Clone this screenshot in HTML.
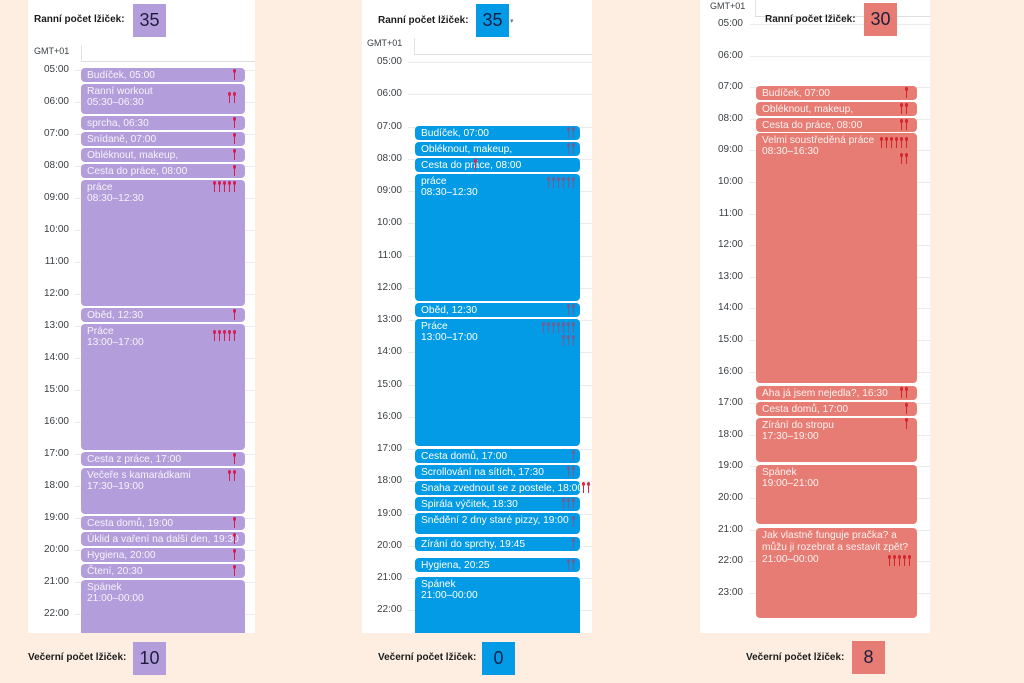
<!DOCTYPE html>
<html><head><meta charset="utf-8">
<style>
*{margin:0;padding:0;box-sizing:border-box}
body{width:1024px;height:683px;background:#fdeee1;position:relative;overflow:hidden;font-family:"Liberation Sans","DejaVu Sans",sans-serif}
.pn{position:absolute;top:0;height:633px;background:#fff}
.lb{position:absolute;font-weight:bold;font-size:10px;color:#1b1b1b;white-space:nowrap;line-height:12px}
.bx{position:absolute;width:33px;height:33px;font-size:18px;line-height:33px;text-align:center;color:#1e1e3c}
.hr{position:absolute;font-size:10px;line-height:12px;height:12px;color:#3c4043;text-align:right;width:40px}
.gl{position:absolute;height:1px;background:#ebebeb}
.vl{position:absolute;width:1px;background:#e3e3e3}
.ev{position:absolute;border-radius:4px;font-size:10.2px;line-height:11px;padding:2px 6px 0 6px;overflow:hidden;white-space:nowrap;color:rgba(255,255,255,.88)}
.p{background:#b39ddb}
.b{background:#039be5;color:#fff}
.r{background:#e67c73;color:rgba(255,255,255,.9)}
.sg{position:absolute;display:flex;height:12px}
.sp{width:3px;height:12px;margin-left:2px;position:relative}
.sp::before{content:"";position:absolute;left:0;top:0;width:3px;height:4px;border-radius:50%;background:var(--c)}
.sp::after{content:"";position:absolute;left:1px;top:3px;width:1px;height:8px;background:var(--c)}
.s1{--c:#d81b50}
.s2{--c:rgba(205,45,85,.55)}
.s2b{--c:#e2233f}
.s3{--c:#d3262c}
.gmt{position:absolute;font-size:9px;color:#3c4043}
</style></head><body>

<!-- ============ PANEL 1 ============ -->
<div class="pn" style="left:28px;width:227px"></div>
<div class="lb" style="left:34px;top:14px">Ranní počet lžiček:</div>
<div class="bx" style="left:133px;top:4px;background:#b39ddb">35</div>
<div class="gmt" style="left:34px;top:46px">GMT+01</div>
<div class="vl" style="left:81px;top:45px;height:16px"></div>
<div class="gl" style="left:81px;top:61px;width:174px;background:#dedede"></div>

<div class="gl" style="left:75px;top:70px;width:180px"></div>
<div class="gl" style="left:75px;top:102px;width:180px"></div>
<div class="gl" style="left:75px;top:134px;width:180px"></div>
<div class="gl" style="left:75px;top:166px;width:180px"></div>
<div class="gl" style="left:75px;top:198px;width:180px"></div>
<div class="gl" style="left:75px;top:230px;width:180px"></div>
<div class="gl" style="left:75px;top:262px;width:180px"></div>
<div class="gl" style="left:75px;top:294px;width:180px"></div>
<div class="gl" style="left:75px;top:326px;width:180px"></div>
<div class="gl" style="left:75px;top:358px;width:180px"></div>
<div class="gl" style="left:75px;top:390px;width:180px"></div>
<div class="gl" style="left:75px;top:422px;width:180px"></div>
<div class="gl" style="left:75px;top:454px;width:180px"></div>
<div class="gl" style="left:75px;top:486px;width:180px"></div>
<div class="gl" style="left:75px;top:518px;width:180px"></div>
<div class="gl" style="left:75px;top:550px;width:180px"></div>
<div class="gl" style="left:75px;top:582px;width:180px"></div>
<div class="gl" style="left:75px;top:614px;width:180px"></div>

<div class="hr" style="left:29px;top:64px">05:00</div>
<div class="hr" style="left:29px;top:96px">06:00</div>
<div class="hr" style="left:29px;top:128px">07:00</div>
<div class="hr" style="left:29px;top:160px">08:00</div>
<div class="hr" style="left:29px;top:192px">09:00</div>
<div class="hr" style="left:29px;top:224px">10:00</div>
<div class="hr" style="left:29px;top:256px">11:00</div>
<div class="hr" style="left:29px;top:288px">12:00</div>
<div class="hr" style="left:29px;top:320px">13:00</div>
<div class="hr" style="left:29px;top:352px">14:00</div>
<div class="hr" style="left:29px;top:384px">15:00</div>
<div class="hr" style="left:29px;top:416px">16:00</div>
<div class="hr" style="left:29px;top:448px">17:00</div>
<div class="hr" style="left:29px;top:480px">18:00</div>
<div class="hr" style="left:29px;top:512px">19:00</div>
<div class="hr" style="left:29px;top:544px">20:00</div>
<div class="hr" style="left:29px;top:576px">21:00</div>
<div class="hr" style="left:29px;top:608px">22:00</div>

<div class="ev p" style="left:81px;top:68px;width:164px;height:14px">Budíček, 05:00</div>
<div class="ev p" style="left:81px;top:84px;width:164px;height:30px">Ranní workout<br>05:30–06:30</div>
<div class="ev p" style="left:81px;top:116px;width:164px;height:14px">sprcha, 06:30</div>
<div class="ev p" style="left:81px;top:132px;width:164px;height:14px">Snídaně, 07:00</div>
<div class="ev p" style="left:81px;top:148px;width:164px;height:14px">Obléknout, makeup,</div>
<div class="ev p" style="left:81px;top:164px;width:164px;height:14px">Cesta do práce, 08:00</div>
<div class="ev p" style="left:81px;top:180px;width:164px;height:126px">práce<br>08:30–12:30</div>
<div class="ev p" style="left:81px;top:308px;width:164px;height:14px">Oběd, 12:30</div>
<div class="ev p" style="left:81px;top:324px;width:164px;height:126px">Práce<br>13:00–17:00</div>
<div class="ev p" style="left:81px;top:452px;width:164px;height:14px">Cesta z práce, 17:00</div>
<div class="ev p" style="left:81px;top:468px;width:164px;height:46px">Večeře s kamarádkami<br>17:30–19:00</div>
<div class="ev p" style="left:81px;top:516px;width:164px;height:14px">Cesta domů, 19:00</div>
<div class="ev p" style="left:81px;top:532px;width:164px;height:14px">Úklid a vaření na další den, 19:30</div>
<div class="ev p" style="left:81px;top:548px;width:164px;height:14px">Hygiena, 20:00</div>
<div class="ev p" style="left:81px;top:564px;width:164px;height:14px">Čtení, 20:30</div>
<div class="ev p" style="left:81px;top:580px;width:164px;height:53px;border-radius:4px 4px 0 0">Spánek<br>21:00–00:00</div>

<div class="sg s1" style="right:788px;top:69px"><i class="sp"></i></div>
<div class="sg s1" style="right:788px;top:92px"><i class="sp"></i><i class="sp"></i></div>
<div class="sg s1" style="right:788px;top:117px"><i class="sp"></i></div>
<div class="sg s1" style="right:788px;top:133px"><i class="sp"></i></div>
<div class="sg s1" style="right:788px;top:149px"><i class="sp"></i></div>
<div class="sg s1" style="right:788px;top:165px"><i class="sp"></i></div>
<div class="sg s1" style="right:788px;top:181px"><i class="sp"></i><i class="sp"></i><i class="sp"></i><i class="sp"></i><i class="sp"></i></div>
<div class="sg s1" style="right:788px;top:309px"><i class="sp"></i></div>
<div class="sg s1" style="right:788px;top:330px"><i class="sp"></i><i class="sp"></i><i class="sp"></i><i class="sp"></i><i class="sp"></i></div>
<div class="sg s1" style="right:788px;top:453px"><i class="sp"></i></div>
<div class="sg s1" style="right:788px;top:470px"><i class="sp"></i><i class="sp"></i></div>
<div class="sg s1" style="right:788px;top:517px"><i class="sp"></i></div>
<div class="sg s1" style="right:788px;top:533px"><i class="sp"></i></div>
<div class="sg s1" style="right:788px;top:549px"><i class="sp"></i></div>
<div class="sg s1" style="right:788px;top:565px"><i class="sp"></i></div>

<div class="lb" style="left:28px;top:652px">Večerní počet lžiček:</div>
<div class="bx" style="left:133px;top:642px;background:#b39ddb">10</div>

<!-- ============ PANEL 2 ============ -->
<div class="pn" style="left:362px;width:230px"></div>
<div class="lb" style="left:378px;top:15px">Ranní počet lžiček:</div>
<div class="bx" style="left:476px;top:4px;background:#039be5;color:#0d1f4a">35</div>
<div style="position:absolute;left:510px;top:17px;font-size:7px;color:#777">▾</div>
<div class="gmt" style="left:367px;top:38px">GMT+01</div>
<div class="vl" style="left:414px;top:38px;height:16px"></div>
<div class="gl" style="left:414px;top:54px;width:178px;background:#dedede"></div>

<div class="gl" style="left:408px;top:62px;width:184px"></div>
<div class="gl" style="left:408px;top:94px;width:184px"></div>
<div class="gl" style="left:408px;top:127px;width:184px"></div>
<div class="gl" style="left:408px;top:159px;width:184px"></div>
<div class="gl" style="left:408px;top:191px;width:184px"></div>
<div class="gl" style="left:408px;top:223px;width:184px"></div>
<div class="gl" style="left:408px;top:256px;width:184px"></div>
<div class="gl" style="left:408px;top:288px;width:184px"></div>
<div class="gl" style="left:408px;top:320px;width:184px"></div>
<div class="gl" style="left:408px;top:352px;width:184px"></div>
<div class="gl" style="left:408px;top:385px;width:184px"></div>
<div class="gl" style="left:408px;top:417px;width:184px"></div>
<div class="gl" style="left:408px;top:449px;width:184px"></div>
<div class="gl" style="left:408px;top:481px;width:184px"></div>
<div class="gl" style="left:408px;top:514px;width:184px"></div>
<div class="gl" style="left:408px;top:546px;width:184px"></div>
<div class="gl" style="left:408px;top:578px;width:184px"></div>
<div class="gl" style="left:408px;top:610px;width:184px"></div>

<div class="hr" style="left:362px;top:56px">05:00</div>
<div class="hr" style="left:362px;top:88px">06:00</div>
<div class="hr" style="left:362px;top:121px">07:00</div>
<div class="hr" style="left:362px;top:153px">08:00</div>
<div class="hr" style="left:362px;top:185px">09:00</div>
<div class="hr" style="left:362px;top:217px">10:00</div>
<div class="hr" style="left:362px;top:250px">11:00</div>
<div class="hr" style="left:362px;top:282px">12:00</div>
<div class="hr" style="left:362px;top:314px">13:00</div>
<div class="hr" style="left:362px;top:346px">14:00</div>
<div class="hr" style="left:362px;top:379px">15:00</div>
<div class="hr" style="left:362px;top:411px">16:00</div>
<div class="hr" style="left:362px;top:443px">17:00</div>
<div class="hr" style="left:362px;top:475px">18:00</div>
<div class="hr" style="left:362px;top:508px">19:00</div>
<div class="hr" style="left:362px;top:540px">20:00</div>
<div class="hr" style="left:362px;top:572px">21:00</div>
<div class="hr" style="left:362px;top:604px">22:00</div>

<div class="ev b" style="left:415px;top:126px;width:165px;height:14px">Budíček, 07:00</div>
<div class="ev b" style="left:415px;top:142px;width:165px;height:14px">Obléknout, makeup,</div>
<div class="ev b" style="left:415px;top:158px;width:165px;height:14px">Cesta do práce, 08:00</div>
<div class="ev b" style="left:415px;top:174px;width:165px;height:127px">práce<br>08:30–12:30</div>
<div class="ev b" style="left:415px;top:303px;width:165px;height:14px">Oběd, 12:30</div>
<div class="ev b" style="left:415px;top:319px;width:165px;height:127px">Práce<br>13:00–17:00</div>
<div class="ev b" style="left:415px;top:449px;width:165px;height:14px">Cesta domů, 17:00</div>
<div class="ev b" style="left:415px;top:465px;width:165px;height:14px">Scrollování na sítích, 17:30</div>
<div class="ev b" style="left:415px;top:481px;width:165px;height:14px;padding-right:0">Snaha zvednout se z postele, 18:00</div>
<div class="ev b" style="left:415px;top:497px;width:165px;height:14px">Spirála výčitek, 18:30</div>
<div class="ev b" style="left:415px;top:513px;width:165px;height:21px">Snědění 2 dny staré pizzy, 19:00</div>
<div class="ev b" style="left:415px;top:537px;width:165px;height:14px">Zírání do sprchy, 19:45</div>
<div class="ev b" style="left:415px;top:558px;width:165px;height:14px">Hygiena, 20:25</div>
<div class="ev b" style="left:415px;top:577px;width:165px;height:56px;border-radius:4px 4px 0 0">Spánek<br>21:00–00:00</div>

<div class="sg s2" style="right:449px;top:127px"><i class="sp"></i><i class="sp"></i></div>
<div class="sg s2" style="right:449px;top:143px"><i class="sp"></i><i class="sp"></i></div>
<div class="sg s2b" style="left:474px;top:159px"><i class="sp" style="margin-left:0"></i></div>
<div class="sg s2" style="right:449px;top:177px"><i class="sp"></i><i class="sp"></i><i class="sp"></i><i class="sp"></i><i class="sp"></i><i class="sp"></i></div>
<div class="sg s2" style="right:449px;top:304px"><i class="sp"></i><i class="sp"></i></div>
<div class="sg s2" style="right:449px;top:322px"><i class="sp"></i><i class="sp"></i><i class="sp"></i><i class="sp"></i><i class="sp"></i><i class="sp"></i><i class="sp"></i></div>
<div class="sg s2" style="right:449px;top:335px"><i class="sp"></i><i class="sp"></i><i class="sp"></i></div>
<div class="sg s2" style="right:449px;top:450px"><i class="sp"></i></div>
<div class="sg s2" style="right:449px;top:466px"><i class="sp"></i><i class="sp"></i></div>
<div class="sg s2b" style="left:580px;top:482px"><i class="sp"></i><i class="sp"></i></div>
<div class="sg s2" style="right:449px;top:498px"><i class="sp"></i><i class="sp"></i><i class="sp"></i></div>
<div class="sg s2" style="right:449px;top:516px"><i class="sp"></i></div>
<div class="sg s2" style="right:449px;top:538px"><i class="sp"></i></div>
<div class="sg s2" style="right:449px;top:559px"><i class="sp"></i><i class="sp"></i></div>

<div class="lb" style="left:378px;top:652px">Večerní počet lžiček:</div>
<div class="bx" style="left:482px;top:642px;background:#039be5;color:#0d1f4a">0</div>

<!-- ============ PANEL 3 ============ -->
<div class="pn" style="left:700px;width:230px"></div>
<div class="gmt" style="left:710px;top:1px">GMT+01</div>
<div class="vl" style="left:755px;top:0px;height:16px"></div>
<div class="gl" style="left:755px;top:16px;width:175px;background:#dedede"></div>

<div class="gl" style="left:750px;top:24px;width:180px"></div>
<div class="gl" style="left:750px;top:56px;width:180px"></div>
<div class="gl" style="left:750px;top:87px;width:180px"></div>
<div class="gl" style="left:750px;top:119px;width:180px"></div>
<div class="gl" style="left:750px;top:150px;width:180px"></div>
<div class="gl" style="left:750px;top:182px;width:180px"></div>
<div class="gl" style="left:750px;top:214px;width:180px"></div>
<div class="gl" style="left:750px;top:245px;width:180px"></div>
<div class="gl" style="left:750px;top:277px;width:180px"></div>
<div class="gl" style="left:750px;top:308px;width:180px"></div>
<div class="gl" style="left:750px;top:340px;width:180px"></div>
<div class="gl" style="left:750px;top:372px;width:180px"></div>
<div class="gl" style="left:750px;top:403px;width:180px"></div>
<div class="gl" style="left:750px;top:435px;width:180px"></div>
<div class="gl" style="left:750px;top:466px;width:180px"></div>
<div class="gl" style="left:750px;top:498px;width:180px"></div>
<div class="gl" style="left:750px;top:530px;width:180px"></div>
<div class="gl" style="left:750px;top:561px;width:180px"></div>
<div class="gl" style="left:750px;top:593px;width:180px"></div>

<div class="lb" style="left:765px;top:14px">Ranní počet lžiček:</div>
<div class="bx" style="left:864px;top:3px;background:#e67c73">30</div>

<div class="hr" style="left:703px;top:18px">05:00</div>
<div class="hr" style="left:703px;top:50px">06:00</div>
<div class="hr" style="left:703px;top:81px">07:00</div>
<div class="hr" style="left:703px;top:113px">08:00</div>
<div class="hr" style="left:703px;top:144px">09:00</div>
<div class="hr" style="left:703px;top:176px">10:00</div>
<div class="hr" style="left:703px;top:208px">11:00</div>
<div class="hr" style="left:703px;top:239px">12:00</div>
<div class="hr" style="left:703px;top:271px">13:00</div>
<div class="hr" style="left:703px;top:302px">14:00</div>
<div class="hr" style="left:703px;top:334px">15:00</div>
<div class="hr" style="left:703px;top:366px">16:00</div>
<div class="hr" style="left:703px;top:397px">17:00</div>
<div class="hr" style="left:703px;top:429px">18:00</div>
<div class="hr" style="left:703px;top:460px">19:00</div>
<div class="hr" style="left:703px;top:492px">20:00</div>
<div class="hr" style="left:703px;top:524px">21:00</div>
<div class="hr" style="left:703px;top:555px">22:00</div>
<div class="hr" style="left:703px;top:587px">23:00</div>

<div class="ev r" style="left:756px;top:86px;width:161px;height:14px">Budíček, 07:00</div>
<div class="ev r" style="left:756px;top:102px;width:161px;height:14px">Obléknout, makeup,</div>
<div class="ev r" style="left:756px;top:118px;width:161px;height:14px">Cesta do práce, 08:00</div>
<div class="ev r" style="left:756px;top:133px;width:161px;height:250px">Velmi soustředěná práce<br>08:30–16:30</div>
<div class="ev r" style="left:756px;top:386px;width:161px;height:14px">Aha já jsem nejedla?, 16:30</div>
<div class="ev r" style="left:756px;top:402px;width:161px;height:14px">Cesta domů, 17:00</div>
<div class="ev r" style="left:756px;top:418px;width:161px;height:44px">Zírání do stropu<br>17:30–19:00</div>
<div class="ev r" style="left:756px;top:465px;width:161px;height:59px">Spánek<br>19:00–21:00</div>
<div class="ev r" style="left:756px;top:528px;width:161px;height:90px;line-height:12px;padding-right:2px">Jak vlastně funguje pračka? a<br>můžu ji rozebrat a sestavit zpět?<br>21:00–00:00</div>

<div class="sg s3" style="right:116px;top:87px"><i class="sp"></i></div>
<div class="sg s3" style="right:116px;top:103px"><i class="sp"></i><i class="sp"></i></div>
<div class="sg s3" style="right:116px;top:119px"><i class="sp"></i><i class="sp"></i></div>
<div class="sg s3" style="right:116px;top:137px"><i class="sp"></i><i class="sp"></i><i class="sp"></i><i class="sp"></i><i class="sp"></i><i class="sp"></i></div>
<div class="sg s3" style="right:116px;top:153px"><i class="sp"></i><i class="sp"></i></div>
<div class="sg s3" style="right:116px;top:387px"><i class="sp"></i><i class="sp"></i></div>
<div class="sg s3" style="right:116px;top:403px"><i class="sp"></i></div>
<div class="sg s3" style="right:116px;top:418px"><i class="sp"></i></div>
<div class="sg s3" style="right:113px;top:555px"><i class="sp"></i><i class="sp"></i><i class="sp"></i><i class="sp"></i><i class="sp"></i></div>

<div class="lb" style="left:746px;top:652px">Večerní počet lžiček:</div>
<div class="bx" style="left:852px;top:641px;background:#e67c73">8</div>

</body></html>
